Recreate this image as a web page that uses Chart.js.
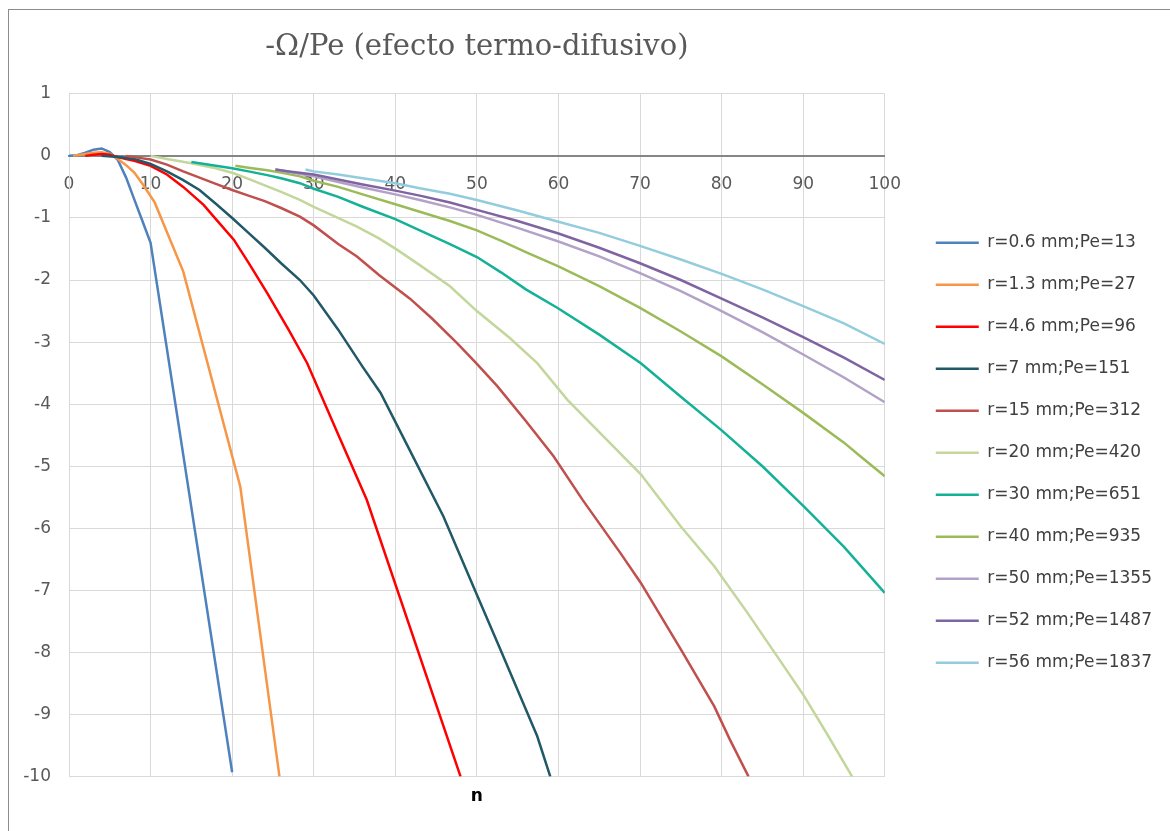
<!DOCTYPE html>
<html lang="es">
  <head>
    <meta charset="UTF-8" />
    <meta name="viewport" content="width=device-width, initial-scale=1.0" />
    <title>-Ω/Pe (efecto termo-difusivo)</title>
    <style>
      * {
        margin: 0;
        padding: 0;
      }
      body {
        background: white;
        width: 1170px;
        height: 831px;
        overflow: hidden;
      }
      .frame {
        position: absolute;
        left: 8px;
        top: 9px;
        width: 1162px;
        height: 822px;
        border-left: 1px solid #8c8c8c;
        border-top: 1px solid #8c8c8c;
      }
      .chartBox {
        position: absolute;
        left: 9px;
        top: 10px;
        width: 1161px;
        height: 821px;
      }
    </style>
  </head>
  <body>
    <div class="frame"></div>
    <div class="chartBox">
      <canvas id="myChart"></canvas>
    </div>

    <script src="https://cdn.jsdelivr.net/npm/chart.js"></script>
    <script>
      // values, n and -Omega/Pe per series
      const labels = [
        "r=0.6 mm;Pe=13",
        "r=1.3 mm;Pe=27",
        "r=4.6 mm;Pe=96",
        "r=7 mm;Pe=151",
        "r=15 mm;Pe=312",
        "r=20 mm;Pe=420",
        "r=30 mm;Pe=651",
        "r=40 mm;Pe=935",
        "r=50 mm;Pe=1355",
        "r=52 mm;Pe=1487",
        "r=56 mm;Pe=1837",
      ];
      const colors = [
        "#4f81bd", "#f79646", "#ff0000", "#215968", "#c0504d", "#c3d69b",
        "#14b196", "#9bbb59", "#b3a2c7", "#8064a2", "#93cddd",
      ];

      const n06 = [0, 1, 2, 3, 4, 5, 6, 7, 8, 9, 10, 20];
      const v06 = [0, 0.01, 0.05, 0.1, 0.12, 0.06, -0.07, -0.35, -0.7, -1.05, -1.4, -9.93];

      const n13 = [0.5, 1, 2, 3, 4, 5, 6, 7, 8, 9, 10.5, 14, 21, 25.8];
      const v13 = [0, 0.01, 0.03, 0.05, 0.06, 0.03, -0.05, -0.15, -0.27, -0.45, -0.75, -1.86, -5.33, -10];

      const n46 = [2, 3, 4, 5, 6, 7, 8, 10, 12, 14, 16.5, 18, 20.2, 22, 24.3, 27, 29.2, 33, 36.5, 48];
      const v46 = [0, 0.02, 0.03, 0.02, -0.02, -0.05, -0.08, -0.16, -0.3, -0.5, -0.79, -1.02, -1.35, -1.72, -2.21, -2.82, -3.34, -4.49, -5.54, -10];

      const n7 = [4, 6, 8, 10, 12, 14, 16, 18, 20, 22, 24, 26, 28.3, 30, 33, 36, 38.2, 42, 45.9, 50, 53, 57.4, 59];
      const v7 = [0, -0.02, -0.05, -0.13, -0.25, -0.39, -0.55, -0.77, -1.0, -1.24, -1.48, -1.73, -2.0, -2.25, -2.8, -3.4, -3.82, -4.8, -5.81, -7.07, -7.99, -9.35, -10];

      const n15 = [7, 8, 10, 12, 14, 16, 18, 20, 22, 24, 26, 28.3, 30, 33, 35.3, 38, 41.8, 44.5, 47.6, 50, 52.5, 56, 59.4, 63, 67.6, 70.1, 75, 79.1, 81, 83.3];
      const v15 = [0, -0.02, -0.06, -0.14, -0.25, -0.35, -0.45, -0.55, -0.64, -0.73, -0.84, -0.98, -1.12, -1.42, -1.62, -1.92, -2.3, -2.62, -3.02, -3.35, -3.71, -4.27, -4.84, -5.55, -6.4, -6.88, -7.95, -8.87, -9.4, -10];

      const n20 = [10, 12, 15, 18, 20.2, 22, 24.3, 26, 28.3, 30, 32.5, 35.3, 38, 40.2, 43, 46.7, 50, 54, 57.4, 61.1, 65, 70.1, 75, 79.1, 83, 87, 90.1, 93, 96];
      const v20 = [0, -0.05, -0.12, -0.2, -0.28, -0.37, -0.49, -0.58, -0.71, -0.82, -0.97, -1.14, -1.33, -1.51, -1.76, -2.1, -2.5, -2.93, -3.34, -3.93, -4.45, -5.13, -5.97, -6.61, -7.33, -8.1, -8.7, -9.33, -10];

      const n30 = [15, 17, 20, 22, 24.3, 26, 28.3, 30, 33, 36, 40, 43, 46.7, 50, 53, 56, 59.9, 65, 70.1, 75, 79.9, 85, 90.1, 95, 100];
      const v30 = [-0.1, -0.14, -0.2, -0.25, -0.31, -0.36, -0.44, -0.53, -0.66, -0.82, -1.02, -1.2, -1.42, -1.63, -1.88, -2.15, -2.45, -2.88, -3.34, -3.88, -4.41, -5.0, -5.65, -6.3, -7.04];

      const n40 = [20.4, 22, 24.3, 26, 28.3, 30, 33, 36, 40, 43, 46.7, 50, 53, 56, 60, 65, 70, 75, 80, 85, 90, 95, 97, 100];
      const v40 = [-0.16, -0.19, -0.23, -0.27, -0.33, -0.4, -0.5, -0.62, -0.78, -0.9, -1.05, -1.2, -1.37, -1.55, -1.78, -2.1, -2.45, -2.83, -3.23, -3.68, -4.14, -4.62, -4.84, -5.16];

      const n50 = [25.3, 27, 30, 33, 36, 40, 43, 46.7, 50, 55, 60, 65, 70, 75, 80, 85, 90, 95, 100];
      const v50 = [-0.22, -0.26, -0.33, -0.42, -0.51, -0.62, -0.71, -0.83, -0.95, -1.16, -1.38, -1.62, -1.89, -2.18, -2.5, -2.84, -3.2, -3.57, -3.97];

      const n52 = [25.3, 27, 30, 33, 36, 40, 43, 46.7, 50, 55, 60, 65, 70, 75, 80, 85, 90, 95, 100];
      const v52 = [-0.22, -0.25, -0.3, -0.38, -0.46, -0.56, -0.64, -0.75, -0.87, -1.05, -1.25, -1.48, -1.73, -2.0, -2.3, -2.6, -2.92, -3.25, -3.61];

      const n56 = [29, 30, 33, 36, 40, 43, 46.7, 50, 55, 60, 65, 70, 75, 80, 85, 90, 95, 100];
      const v56 = [-0.22, -0.25, -0.3, -0.36, -0.44, -0.52, -0.61, -0.71, -0.88, -1.06, -1.24, -1.45, -1.67, -1.9, -2.15, -2.42, -2.7, -3.03];

      const nSeries = [n06, n13, n46, n7, n15, n20, n30, n40, n50, n52, n56];
      const vSeries = [v06, v13, v46, v7, v15, v20, v30, v40, v50, v52, v56];

      const xTicks = { min: 0, max: 100, step: 10 };
      const yTicks = { min: -10, max: 1, step: 1 };

      const toPoints = (ns, vs) => ns.map((n, i) => ({ x: n, y: vs[i] }));

      Chart.defaults.font.family = "'DejaVu Sans', sans-serif";
      Chart.defaults.color = "#595959";

      const datasets = labels.map((label, i) => ({
        label: label,
        data: toPoints(nSeries[i], vSeries[i]),
        borderColor: colors[i],
        backgroundColor: colors[i],
        borderWidth: 2.5,
        pointRadius: 0,
        tension: 0,
        fill: false,
        order: -i, // later series on top, like the spreadsheet
        xAxisID: "x",
        yAxisID: "y",
      }));

      const ctx = document.getElementById("myChart");
      const myChart = new Chart(ctx, {
        type: "line",
        data: { datasets },
        options: {
          responsive: true,
          maintainAspectRatio: false,
          animation: false,
          layout: { padding: { left: 14, right: 8, top: 0, bottom: 0 } },
          plugins: {
            title: {
              display: true,
              text: "-Ω/Pe (efecto termo-difusivo)",
              fullSize: false,
              color: "#595959",
              font: { family: "'DejaVu Serif', serif", size: 29, weight: "normal" },
              padding: { top: 20, bottom: 29 },
            },
            legend: {
              position: "right",
              align: "center",
              fullSize: false,
              reverse: true,
              maxWidth: 300,
              title: { display: true, text: "", font: { size: 10 }, padding: 11.5 },
              labels: {
                usePointStyle: true,
                pointStyle: "line",
                pointStyleWidth: 43,
                color: "#404040",
                font: { size: 17 },
                padding: 25,
              },
            },
            tooltip: { enabled: false },
          },
          scales: {
            x: {
              type: "linear",
              position: "bottom",
              min: xTicks.min,
              max: xTicks.max,
              ticks: { display: false, stepSize: xTicks.step },
              grid: { color: "#d9d9d9", drawTicks: false },
              border: { color: "#d9d9d9" },
              title: {
                display: true,
                text: "n",
                color: "#000000",
                font: { size: 17, weight: "bold" },
                padding: { top: 10, bottom: 24 },
              },
            },
            x2: {
              type: "linear",
              position: { y: 0 },
              min: xTicks.min,
              max: xTicks.max,
              ticks: {
                stepSize: xTicks.step,
                color: "#595959",
                font: { size: 17 },
                padding: 19,
                maxRotation: 0,
                autoSkip: false,
              },
              grid: { display: false, drawTicks: false },
              border: { color: "#868686", width: 2 },
            },
            y: {
              type: "linear",
              position: "left",
              min: yTicks.min,
              max: yTicks.max,
              ticks: { stepSize: yTicks.step, color: "#595959", font: { size: 17 }, padding: 18 },
              grid: { color: "#d9d9d9", drawTicks: false },
              border: { color: "#d9d9d9" },
              afterFit: (scale) => {
                scale.width = 46;
              },
            },
            // empty right axis, only keeps a gap before the legend
            y2: {
              type: "linear",
              position: "right",
              ticks: { display: false },
              grid: { display: false, drawTicks: false },
              border: { display: false },
              title: { display: true, text: "", font: { size: 10 }, padding: 7 },
            },
          },
        },
      });
    </script>
  </body>
</html>
